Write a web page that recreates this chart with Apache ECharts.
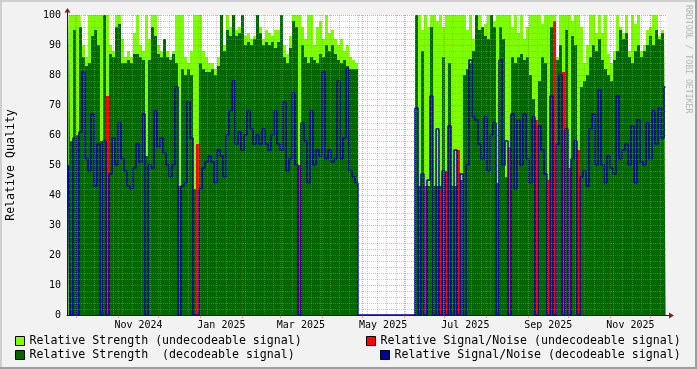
<!DOCTYPE html>
<html><head><meta charset="utf-8">
<script src="https://cdn.jsdelivr.net/npm/echarts@6/dist/echarts.min.js"></script>
<style>html,body{margin:0;padding:0;background:#f2f2f2}#c{width:697px;height:369px}</style>
</head><body><div id="c"></div>
<script>
const _ = null;
// Relative Strength (undecodeable signal) - top of light green envelope, one value per 3px column
const strengthUndecodeable = [
100,100,100,100,100,90,86,100,100,100,
100,100,100,100,90,88,100,100,92,86,
88,86,94,100,90,88,100,92,100,100,
90,88,92,88,86,88,100,100,100,86,
84,88,100,100,100,88,86,84,84,82,
86,100,90,100,96,100,95,96,100,93,
94,92,93,100,96,92,95,94,93,95,
95,100,90,87,93,100,100,100,96,92,
100,100,90,96,98,92,100,94,95,92,
90,92,88,90,86,85,84,_,_,_,
_,_,_,_,_,_,_,_,_,_,
_,_,_,_,_,_,100,100,95,100,
96,100,100,98,100,96,100,100,100,100,
100,100,100,95,100,92,100,100,96,97,
100,100,98,100,100,100,100,100,96,100,
94,100,92,96,100,100,100,100,97,100,
100,100,100,86,100,100,100,100,98,100,
100,96,84,90,100,100,94,100,94,100,
87,84,88,100,96,94,100,88,100,97,
100,88,90,95,96,100,100,93,95,98];
// Relative Strength (decodeable signal)
const strengthDecodeable = [
100,58,95,60,96,86,83,84,93,95,
90,58,100,48,87,86,96,97,84,84,
85,84,87,87,86,85,53,85,96,93,
87,86,92,86,85,87,84,43,82,80,
82,80,42,42,84,82,81,81,82,80,
83,100,88,95,93,100,93,94,100,90,
91,90,92,100,94,90,91,90,91,89,
91,100,86,84,89,98,96,50,90,86,
84,86,85,84,87,86,90,88,90,87,
85,84,85,83,82,82,82,_,_,_,
_,_,_,_,_,_,_,_,_,_,
_,_,_,_,_,_,100,43,88,43,
43,96,43,43,43,86,43,84,43,43,
43,45,80,82,84,88,100,95,96,93,
92,100,96,44,96,92,46,44,86,84,
86,87,85,86,80,72,44,78,86,84,
44,96,44,85,90,44,95,44,93,90,
44,76,78,80,86,90,88,92,85,82,
80,78,85,88,95,92,94,86,84,88,
90,86,88,90,93,90,95,92,94,96];
// Relative Signal/Noise (decodeable signal)
const snrDecodeable = [
50,0,59,0,61,81,52,48,67,43,
57,0,58,0,47,59,50,64,52,48,
43,42,49,57,51,67,0,50,49,68,
56,59,54,50,46,50,76,0,43,44,
71,59,0,0,42,49,51,53,51,44,
55,53,46,60,68,78,57,61,55,60,
68,62,57,60,57,62,57,55,60,68,
57,55,71,48,52,74,50,0,64,58,
44,68,50,55,53,81,52,55,51,52,
78,52,59,82,48,46,44,0,0,0,
0,0,0,0,0,0,0,0,0,0,
0,0,0,0,0,0,69,0,47,0,
45,73,0,62,0,48,0,63,0,55,
0,47,0,50,85,66,65,57,52,66,
48,60,64,0,85,50,58,0,67,42,
65,50,67,52,44,66,0,63,55,47,
0,73,0,57,80,0,62,0,52,58,
0,46,48,43,62,67,50,75,50,44,
53,49,47,73,52,55,57,50,63,44,
65,51,50,64,52,68,57,69,59,76];
// Relative Signal/Noise (undecodeable signal)
const snrUndecodeable = [
_,_,_,_,_,_,_,_,_,_,
_,_,_,73,_,_,_,_,_,_,
_,_,_,_,_,_,_,_,_,_,
_,_,_,_,_,_,_,_,_,_,
_,_,_,57,_,_,_,_,_,_,
_,_,_,_,_,_,_,_,_,_,
_,_,_,_,_,_,_,_,_,_,
_,_,_,_,_,_,_,50,_,_,
_,_,_,_,_,_,_,_,_,_,
_,_,_,_,_,_,_,_,_,_,
_,_,_,_,_,_,_,_,_,_,
_,_,_,_,_,_,_,_,_,43,
_,_,_,_,42,_,48,_,_,_,
55,_,_,_,_,_,_,_,_,_,
_,_,_,_,_,_,_,56,_,_,
_,_,_,_,_,_,65,_,_,_,
45,_,98,_,_,81,_,49,_,_,
55,_,_,_,_,_,_,_,_,_,
_,_,_,_,_,_,_,_,_,_,
_,_,_,_,_,_,_,_,_,_];
const seriesNames = [
  'Relative Strength (undecodeable signal)',
  'Relative Strength  (decodeable signal)',
  'Relative Signal/Noise (undecodeable signal)',
  'Relative Signal/Noise (decodeable signal)'
];
const xTickLabels = ['Nov 2024','Jan 2025','Mar 2025','May 2025','Jul 2025','Sep 2025','Nov 2025'];

const DAY = 86400000;
const MONTHS = ['Jan','Feb','Mar','Apr','May','Jun','Jul','Aug','Sep','Oct','Nov','Dec'];
const startTime = Date.UTC(2024, 10, 1) - 38.06 * DAY;
const endTime = startTime + 445.2 * DAY;
const N = strengthDecodeable.length;
const colSpan = (endTime - startTime) / N;
const sampleTimes = strengthDecodeable.map((_v, i) => startTime + (i + 0.5) * colSpan);
const pair = arr => arr.map((v, i) => [sampleTimes[i], v]);

const labelTimes = xTickLabels.map(s => {
  const parts = s.split(' '); const m = MONTHS.indexOf(parts[0]); const y = +parts[1];
  return (Date.UTC(y, m, 1) + Date.UTC(y, m + 1, 1)) / 2;
});
const monthTicks = [];
for (let k = 0; k < 40; k++) { const t = Date.UTC(2024, 8 + k, 1); if (t > endTime) break; if (t >= startTime) monthTicks.push(t); }
const weekTicks = [];
for (let t = Date.UTC(2024, 8, 30); t <= endTime; t += 7 * DAY) weekTicks.push(t);

const FONT = 'DejaVu Sans Mono';
const GRID = 'rgba(143,143,143,0.5)';
const MGRID = 'rgba(222,79,79,0.5)';
const colors = ['#80ff00', '#006600', '#ff0000', '#0000a0'];

const chart = echarts.init(document.getElementById('c'), null, {renderer: 'canvas'});
const legendCommon = {orient: 'horizontal', padding: 0, itemWidth: 9, itemHeight: 9, itemGap: 0, selectedMode: false,
  textStyle: {fontFamily: FONT, fontSize: 11.6, color: '#000', lineHeight: 12}};
const legendPos = [[15, 335], [15, 349], [366, 335], [380, 349]];
chart.setOption({
  animation: false,
  backgroundColor: '#f2f2f2',
  grid: {left: 67, top: 15, width: 600, height: 300, show: true, backgroundColor: '#ffffff', borderWidth: 0},
  legend: seriesNames.map((nm, i) => Object.assign({}, legendCommon, {
    left: legendPos[i][0], top: legendPos[i][1],
    data: [{name: nm, icon: 'rect', itemStyle: {color: colors[i], borderColor: '#000', borderWidth: 1}}]
  })),
  xAxis: [
    {type: 'value', min: startTime, max: endTime, position: 'bottom', z: 10,
     axisLine: {show: false}, axisLabel: {show: false},
     axisTick: {show: false, customValues: weekTicks},
     splitLine: {show: true, lineStyle: {color: GRID, width: 1, type: [1, 1]}}},
    {type: 'value', min: startTime, max: endTime, position: 'bottom', z: 11,
     axisLine: {show: true, onZero: false, lineStyle: {color: '#1f1f1f', width: 1}},
     axisTick: {show: true, customValues: monthTicks, length: 3, lineStyle: {color: MGRID}},
     axisLabel: {show: true, customValues: labelTimes, margin: 5, fontFamily: FONT, fontSize: 10, color: '#000',
       formatter: v => { let b = 0; labelTimes.forEach((t, i) => { if (Math.abs(t - v) < Math.abs(labelTimes[b] - v)) b = i; }); return xTickLabels[b]; }},
     splitLine: {show: true, lineStyle: {color: MGRID, width: 1, type: [1, 1]}}}
  ],
  yAxis: {type: 'value', min: 0, max: 100, interval: 10, z: 10,
    axisLine: {show: true, lineStyle: {color: '#1f1f1f', width: 1}},
    axisTick: {show: false},
    axisLabel: {margin: 6, fontFamily: FONT, fontSize: 10, color: '#000'},
    splitLine: {show: true, lineStyle: {color: MGRID, width: 1, type: [1, 1]}},
    minorTick: {show: false, splitNumber: 5},
    minorSplitLine: {show: true, lineStyle: {color: GRID, width: 1, type: [1, 1]}}},
  series: [
    {name: seriesNames[0], type: 'line', step: 'middle', data: pair(strengthUndecodeable), showSymbol: false, silent: true, z: 2,
     itemStyle: {color: colors[0]}, lineStyle: {width: 0, opacity: 0}, areaStyle: {color: colors[0], opacity: 1}},
    {name: seriesNames[1], type: 'line', step: 'middle', data: pair(strengthDecodeable), showSymbol: false, silent: true, z: 3,
     itemStyle: {color: colors[1]}, lineStyle: {width: 0, opacity: 0}, areaStyle: {color: colors[1], opacity: 1}},
    {name: seriesNames[2], type: 'bar', barWidth: 3, data: pair(snrUndecodeable), silent: true, z: 4,
     itemStyle: {color: colors[2]}},
    {name: seriesNames[3], type: 'line', step: 'middle', data: pair(snrDecodeable), showSymbol: false, silent: true, z: 5,
     itemStyle: {color: colors[3]}, lineStyle: {color: colors[3], width: 1.5}}
  ],
  graphic: [
    {type: 'rect', shape: {x: 0, y: 0, width: 697, height: 2}, style: {fill: '#cfcfcf'}, silent: true},
    {type: 'rect', shape: {x: 0, y: 0, width: 2, height: 369}, style: {fill: '#cfcfcf'}, silent: true},
    {type: 'rect', shape: {x: 0, y: 367, width: 697, height: 2}, style: {fill: '#9e9e9e'}, silent: true},
    {type: 'rect', shape: {x: 695, y: 0, width: 2, height: 369}, style: {fill: '#9e9e9e'}, silent: true},
    {type: 'line', shape: {x1: 67.5, y1: 15, x2: 67.5, y2: 11}, style: {stroke: '#1f1f1f', lineWidth: 1}, silent: true},
    {type: 'line', shape: {x1: 667, y1: 315.5, x2: 670, y2: 315.5}, style: {stroke: '#1f1f1f', lineWidth: 1}, silent: true},
    {type: 'polygon', shape: {points: [[64.5, 12.5], [70.5, 12.5], [67.5, 8]]}, style: {fill: '#801f1f'}, silent: true, z: 20},
    {type: 'polygon', shape: {points: [[669, 312.5], [669, 318.5], [674, 315.5]]}, style: {fill: '#801f1f'}, silent: true, z: 20},
    {type: 'text', x: 11, y: 165, rotation: Math.PI / 2, silent: true,
     style: {text: 'Relative Quality', font: '11.6px "DejaVu Sans Mono"', fill: '#000', align: 'center', verticalAlign: 'middle'}},
    {type: 'text', x: 688, y: 5, rotation: -Math.PI / 2, silent: true,
     style: {text: 'RRDTOOL / TOBI OETIKER', font: '8.2px "DejaVu Sans Mono"', fill: '#b4b4b4', align: 'left', verticalAlign: 'middle'}}
  ]
});
</script></body></html>
